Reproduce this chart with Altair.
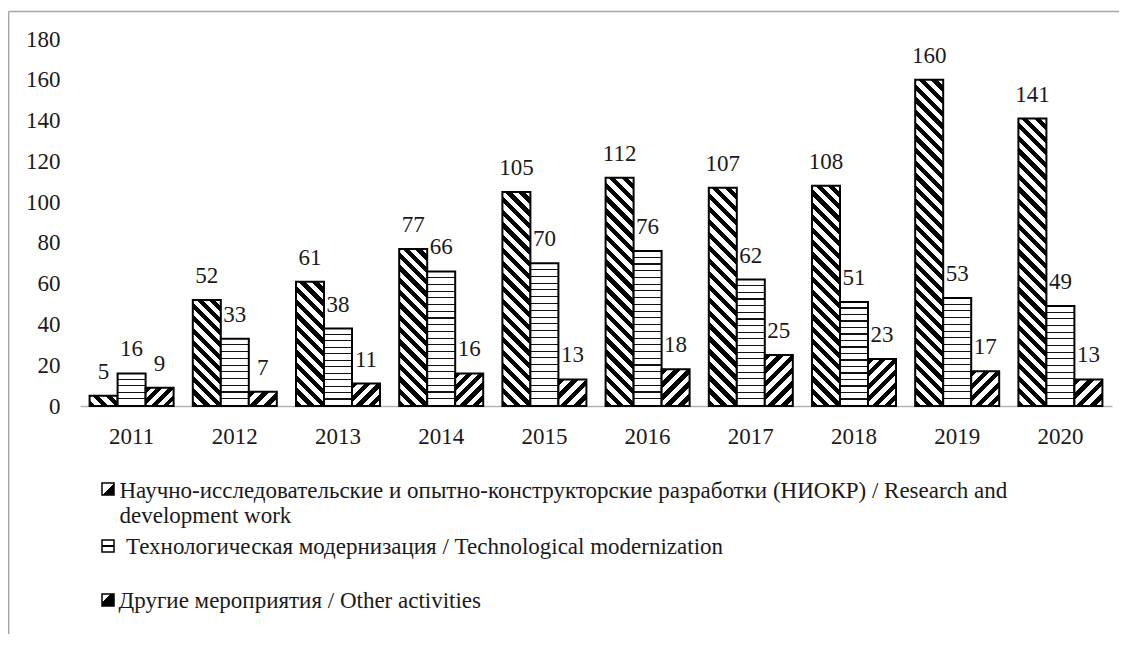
import altair as alt
import pandas as pd
import numpy as np

# ---------------- data ----------------
years = ["2011", "2012", "2013", "2014", "2015", "2016", "2017", "2018", "2019", "2020"]
series = ["niokr", "tech", "other"]
niokr = [5, 52, 61, 77, 105, 112, 107, 108, 160, 141]
tech = [16, 33, 38, 66, 70, 76, 62, 51, 53, 49]
other = [9, 7, 11, 16, 13, 18, 25, 23, 17, 13]
legend_labels = [
    "Научно-исследовательские и опытно-конструкторские разработки (НИОКР) / Research and\ndevelopment work",
    "Технологическая модернизация / Technological modernization",
    "Другие мероприятия / Other activities",
]
y_ticks = [0, 20, 40, 60, 80, 100, 120, 140, 160, 180]

rows = []
for s, vals in zip(series, [niokr, tech, other]):
    for y, v in zip(years, vals):
        rows.append({"year": y, "series": s, "value": v})
df = pd.DataFrame(rows)
df["id"] = range(len(df))

# ---------------- layout / style ----------------
FONT = "'Liberation Serif', 'Times New Roman', Times, 'Nimbus Roman', 'DejaVu Serif', serif"
FS = 23
TXT = "#1a1a1a"
W, H, YMAX = 1032, 367, 180
PAD_IN, PAD_OUT = 0.186, 0.093
STEP = W / (len(years) - PAD_IN + 2 * PAD_OUT)
BAR_W = STEP * (1 - PAD_IN) / len(series)


def diag_gradient(w, h, kind, period=9.0, frac=0.5):
    r = h / w
    a = (1 + r) / (1 + r * r)
    L = (w + h) / np.sqrt(2)
    n = max(1, int(round(L / period)))
    if kind == "back":  # "\" stripes
        x1, y1, x2, y2 = 0.0, 1.0, a, 1 - a * r
    else:  # "/" stripes
        x1, y1, x2, y2 = 0.0, 0.0, a, a * r
    stops = []
    for k in range(n):
        o0, o1, o2 = k / n, (k + frac) / n, (k + 1) / n
        stops += [
            {"offset": o0, "color": "black"},
            {"offset": o1, "color": "black"},
            {"offset": o1, "color": "white"},
            {"offset": o2, "color": "white"},
        ]
    return {"gradient": "linear", "x1": x1, "y1": y1, "x2": x2, "y2": y2, "stops": stops}


def hline_gradient(h, period=6.7, thick=1.1):
    n = max(1, int(round(h / period)))
    tf = min(0.5 / n, thick / h)
    stops = []
    for k in range(n):
        o0, o2 = k / n, (k + 1) / n
        o1 = o2 - tf
        stops += [
            {"offset": o0, "color": "white"},
            {"offset": o1, "color": "white"},
            {"offset": o1, "color": "#111111"},
            {"offset": o2, "color": "#111111"},
        ]
    return {"gradient": "linear", "x1": 0, "y1": 0, "x2": 0, "y2": 1, "stops": stops}


def grad_for(s, v):
    h = v * H / YMAX
    if s == "niokr":
        return diag_gradient(BAR_W, h, "back")
    if s == "tech":
        return hline_gradient(h)
    return diag_gradient(BAR_W, h, "fwd")


x_enc = alt.X(
    "year:N",
    sort=years,
    scale=alt.Scale(paddingInner=PAD_IN, paddingOuter=PAD_OUT),
    axis=alt.Axis(
        title=None, labelAngle=0, ticks=False, domainColor="#b3b3b3", domainWidth=1.5,
        labelPadding=19, labelFontSize=FS, labelFont=FONT, labelColor=TXT,
    ),
)
xo_enc = alt.XOffset("series:N", sort=series, scale=alt.Scale(paddingInner=0, paddingOuter=0))
y_enc = alt.Y(
    "value:Q",
    scale=alt.Scale(domain=[0, YMAX], nice=False, zero=True),
    axis=alt.Axis(
        title=None, values=y_ticks, domain=False, ticks=False, grid=False,
        labelPadding=20, labelFontSize=FS, labelFont=FONT, labelColor=TXT,
    ),
)

layers = []
for i, rec in enumerate(rows):
    layers.append(
        alt.Chart()
        .transform_filter(f"datum.id == {i}")
        .mark_bar(fill=grad_for(rec["series"], rec["value"]), stroke="black", strokeWidth=2, opacity=1)
        .encode(x=x_enc, xOffset=xo_enc, y=y_enc)
    )

labels = (
    alt.Chart()
    .mark_text(font=FONT, fontSize=FS, color=TXT, baseline="alphabetic", dy=-17)
    .encode(x=x_enc, xOffset=xo_enc, y=y_enc, text="value:Q")
)
layers.append(labels)

# ---------------- legend (manual, patterned swatches) ----------------
sw_grads = [
    {"gradient": "linear", "x1": 0, "y1": 0, "x2": 1, "y2": 1,
     "stops": [{"offset": 0, "color": "white"}, {"offset": 0.5, "color": "white"},
               {"offset": 0.5, "color": "black"}, {"offset": 1, "color": "black"}]},
    {"gradient": "linear", "x1": 0, "y1": 0, "x2": 0, "y2": 1,
     "stops": [{"offset": 0, "color": "white"}, {"offset": 0.4, "color": "white"},
               {"offset": 0.4, "color": "black"}, {"offset": 0.6, "color": "black"},
               {"offset": 0.6, "color": "white"}, {"offset": 1, "color": "white"}]},
    {"gradient": "linear", "x1": 0, "y1": 0, "x2": 1, "y2": 1,
     "stops": [{"offset": 0, "color": "white"}, {"offset": 0.35, "color": "white"},
               {"offset": 0.35, "color": "black"}, {"offset": 1, "color": "black"}]},
]
sw_pos = [(22, 444), (22, 501), (22, 555)]
txt_pos = [(39.5, 459), (46, 515), (38.5, 569)]
for lab, g, (sx, sy), (tx, ty) in zip(legend_labels, sw_grads, sw_pos, txt_pos):
    one = pd.DataFrame({"label": [lab]})
    layers.append(
        alt.Chart(one)
        .mark_rect(fill=g, stroke="black", strokeWidth=1.5)
        .encode(x=alt.value(sx), x2=alt.value(sx + 12), y=alt.value(sy), y2=alt.value(sy + 12))
    )
    layers.append(
        alt.Chart(one)
        .mark_text(font=FONT, fontSize=FS, color=TXT, align="left", baseline="alphabetic",
                   lineBreak="\n", lineHeight=25)
        .encode(text="label:N", x=alt.value(tx), y=alt.value(ty))
    )

# ---------------- outer frame ----------------
frame_df = pd.DataFrame({"k": [0]})
layers.append(
    alt.Chart(frame_df).mark_rule(color="#a6a6a6", strokeWidth=1.4)
    .encode(x=alt.value(-71.3), x2=alt.value(1040), y=alt.value(-27.5))
)
layers.append(
    alt.Chart(frame_df).mark_rule(color="#a6a6a6", strokeWidth=1.4)
    .encode(x=alt.value(-71.3), y=alt.value(-27.5), y2=alt.value(610))
)

chart = (
    alt.layer(*layers, data=df)
    .properties(
        width=W,
        height=H,
        autosize=alt.AutoSizeParams(type="none"),
        padding={"left": 72, "top": 31, "right": 7, "bottom": 228},
        background="white",
    )
    .configure_view(stroke=None)
)

chart.save("out.html", embed_options={"renderer": "svg", "actions": False})
